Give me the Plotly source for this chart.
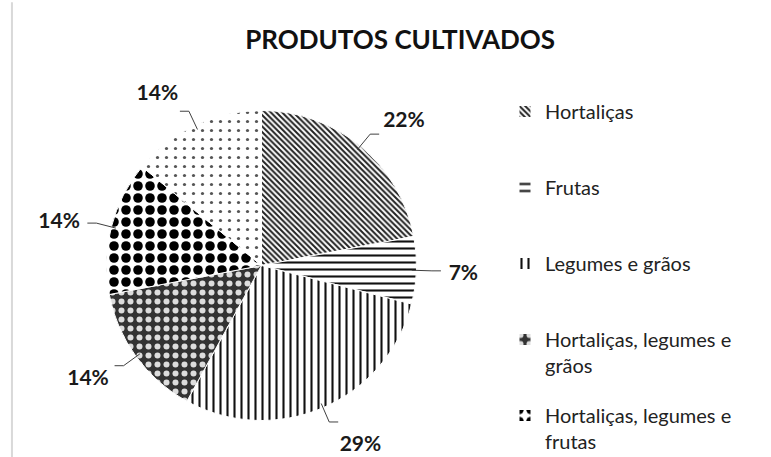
import math
import plotly.graph_objects as go

labels = ["Hortaliças", "Frutas", "Legumes e grãos",
          "Hortaliças, legumes e grãos", "Hortaliças, legumes e frutas",
          "Outros"]
legend_labels = ["Hortaliças", "Frutas", "Legumes e grãos",
                 "Hortaliças, legumes e<br>grãos", "Hortaliças, legumes e<br>frutas"]
values = [22, 7, 29, 14, 14, 14]

title_text = "PRODUTOS CULTIVADOS"

patterns = [
    dict(shape="\\", fgcolor="#222222", bgcolor="#ffffff", size=4, solidity=0.5),
    dict(shape="-", fgcolor="#111111", bgcolor="#ffffff", size=7, solidity=0.3),
    dict(shape="|", fgcolor="#111111", bgcolor="#ffffff", size=7, solidity=0.3),
    dict(shape=".", fgcolor="#dddddd", bgcolor="#333333", size=9, solidity=0.35),
    dict(shape=".", fgcolor="#000000", bgcolor="#ffffff", size=12, solidity=0.5),
    dict(shape=".", fgcolor="#555555", bgcolor="#ffffff", size=9, solidity=0.1),
]

W, H = 771, 457
CX, CY, R = 261.5, 265.5, 155.0      # pie centre / radius in pixels
RT = 181.0                            # radius of the text ring
LEG_X, LEG_TOP, LEG_STEP = 505.0, 92.0, 76.0

def dom(r):
    return dict(x=[(CX - r) / W, (CX + r) / W],
                y=[1 - (CY + r) / H, 1 - (CY - r) / H])

def pat(idx):
    return dict(shape=[patterns[i]["shape"] for i in idx],
                fgcolor=[patterns[i]["fgcolor"] for i in idx],
                bgcolor=[patterns[i]["bgcolor"] for i in idx],
                size=[patterns[i]["size"] for i in idx],
                solidity=[patterns[i]["solidity"] for i in idx],
                fillmode="replace")

traces = []
legend_layout = {}
# one hidden single-slice pie per legend entry (fully covered by the main pie)
for i, lab in enumerate(legend_labels):
    lid = "legend" if i == 0 else "legend%d" % (i + 1)
    traces.append(go.Pie(
        labels=[lab], values=[1], sort=False, textinfo="none",
        marker=dict(colors=["#ffffff"], line=dict(color="#ffffff", width=1),
                    pattern=pat([i])),
        domain=dom(R - 4), showlegend=True, legend=lid, hoverinfo="skip",
    ))
    legend_layout[lid] = dict(
        x=LEG_X / W, xanchor="left", y=1 - (LEG_TOP + i * LEG_STEP) / H,
        yanchor="top", valign="top", bgcolor="rgba(0,0,0,0)",
        font=dict(family="Lato", size=20, color="#222222"),
        itemclick=False, itemdoubleclick=False,
    )

traces.append(go.Pie(
    labels=labels,
    values=values,
    sort=False,
    direction="clockwise",
    rotation=0,
    textinfo="none",
    marker=dict(colors=["#ffffff"] * len(values),
                line=dict(color="#ffffff", width=1),
                pattern=pat(range(len(values)))),
    domain=dom(R),
    showlegend=False,
    hoverinfo="label+percent",
))

traces.append(go.Pie(
    labels=labels,
    values=values,
    sort=False,
    direction="clockwise",
    rotation=0,
    textinfo="percent",
    textposition="outside",
    textfont=dict(family="Lato", size=21, color="#1a1a1a", weight="bold"),
    marker=dict(colors=["rgba(0,0,0,0)"] * len(values), line=dict(width=0)),
    domain=dom(RT),
    showlegend=False,
    hoverinfo="skip",
))

fig = go.Figure(traces)

# leader lines computed from slice mid-angles
shapes = [dict(type="line", xref="paper", yref="paper", x0=0.0155, x1=0.0155,
               y0=0.0, y1=0.995, line=dict(color="#d9d9d9", width=2))]
total = float(sum(values))
cum = 0.0
for v in values:
    mid = (cum + v / 2) / total * 2 * math.pi
    cum += v
    ux, uy = math.sin(mid), -math.cos(mid)
    x1, y1 = CX + R * 0.97 * ux, CY + R * 0.97 * uy
    x2, y2 = CX + R * 1.10 * ux, CY + R * 1.10 * uy
    x3 = x2 + (9 if ux >= 0 else -9)
    path = "M %f %f L %f %f L %f %f" % (x1 / W, 1 - y1 / H, x2 / W, 1 - y2 / H,
                                         x3 / W, 1 - y2 / H)
    shapes.append(dict(type="path", xref="paper", yref="paper", path=path,
                       line=dict(color="#404040", width=1)))

fig.update_layout(
    width=W, height=H,
    paper_bgcolor="#ffffff",
    plot_bgcolor="#ffffff",
    margin=dict(l=0, r=0, t=0, b=0, autoexpand=False),
    font=dict(family="Lato", color="#222222"),
    title=dict(text="<b>" + title_text + "</b>", x=0.519, xanchor="center",
               y=0.912, yanchor="middle",
               font=dict(family="Lato", size=26, color="#111111")),
    shapes=shapes,
    **legend_layout,
)

fig.write_html("out.html", config={"displayModeBar": False},
               post_script="document.body.style.margin='0';")
